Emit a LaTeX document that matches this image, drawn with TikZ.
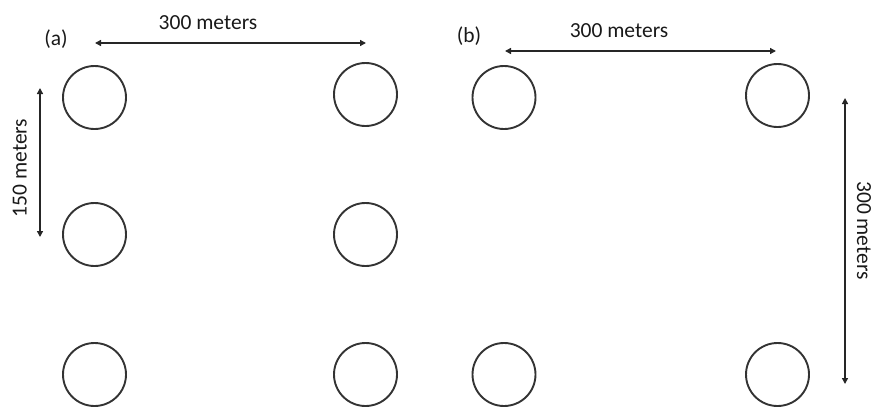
\documentclass[tikz,border=0pt]{standalone}
\usepackage{fontspec}
\setmainfont{Carlito}
\usetikzlibrary{arrows.meta}
\begin{document}
\begin{tikzpicture}[x=1pt,y=-1pt,
  well/.style={circle,draw=black!80,line width=1.9pt,minimum size=63pt,inner sep=0pt},
  dim/.style={draw=black!85,line width=1.4pt,{Triangle[length=6pt,width=6pt]}-{Triangle[length=6pt,width=6pt]}},
  lbl/.style={font=\fontsize{21.5}{25}\selectfont,text=black!90,inner sep=0pt}]
\useasboundingbox (0,0) rectangle (872,407);
% layout (a): two columns of three wells
\node[well] (a11) at (94.5,97.5) {};
\node[well] (a12) at (365.5,94.5) {};
\node[well] (a21) at (94.5,234.5) {};
\node[well] (a22) at (365.5,234.5) {};
\node[well] (a31) at (94.5,374.5) {};
\node[well] (a32) at (365.5,374.5) {};
% layout (b): four corner wells
\node[well] (b11) at (504,97.5) {};
\node[well] (b12) at (777.5,95.5) {};
\node[well] (b21) at (504,374.5) {};
\node[well] (b22) at (777.5,374.5) {};
% panel labels
\node[lbl] (la) at (56,39.5) {(a)};
\node[lbl] (lb) at (469,36.5) {(b)};
% dimension line ends
\coordinate (ah1) at (95,43);
\coordinate (ah2) at (366,43);
\coordinate (av1) at (40,88);
\coordinate (av2) at (40,237);
\coordinate (bh1) at (505,51);
\coordinate (bh2) at (776,51);
\coordinate (bv1) at (845,98);
\coordinate (bv2) at (845,384);
\draw[dim] (ah1) -- (ah2);
\draw[dim] (av1) -- (av2);
\draw[dim] (bh1) -- (bh2);
\draw[dim] (bv1) -- (bv2);
% dimension texts
\node[lbl,anchor=base] (tah) at (208,29) {300 meters};
\node[lbl,anchor=base,rotate=90] (tav) at (26.7,168) {150 meters};
\node[lbl,anchor=base] (tbh) at (619,37) {300 meters};
\node[lbl,anchor=base,rotate=-90] (tbv) at (857,230.5) {300 meters};
\end{tikzpicture}
\end{document}
